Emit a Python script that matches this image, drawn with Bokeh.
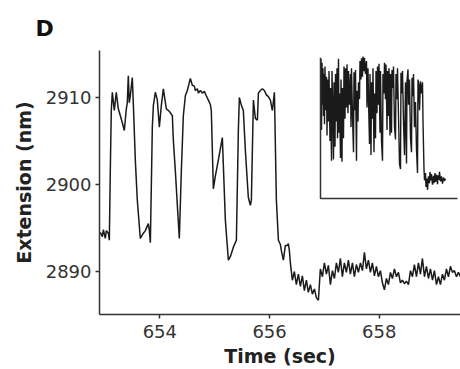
from bokeh.plotting import figure
from bokeh.models import Range1d, FixedTicker, Title
from bokeh.embed import file_html
from bokeh.resources import INLINE

# ---- main trace (time in s, extension in nm) ----
time_s = [652.915, 652.951, 652.970, 653.006, 653.024, 653.061, 653.079, 653.097, 653.115, 653.134,
          653.170, 653.206, 653.243, 653.280, 653.316, 653.352, 653.389, 653.407, 653.425, 653.443,
          653.462, 653.498, 653.516, 653.553, 653.589, 653.644, 653.699, 653.736, 653.790, 653.809,
          653.827, 653.863, 653.882, 653.918, 653.954, 653.991, 654.027, 654.064, 654.118, 654.173,
          654.228, 654.246, 654.282, 654.319, 654.355, 654.392, 654.410, 654.428, 654.465, 654.501,
          654.556, 654.592, 654.629, 654.647, 654.684, 654.702, 654.738, 654.775, 654.811, 654.847,
          654.884, 654.920, 654.938, 654.975, 655.012, 655.066, 655.139, 655.194, 655.249, 655.285,
          655.340, 655.395, 655.431, 655.449, 655.486, 655.522, 655.559, 655.613, 655.650, 655.668,
          655.705, 655.741, 655.778, 655.796, 655.832, 655.869, 655.905, 655.942, 655.978, 656.015,
          656.051, 656.088, 656.124, 656.161, 656.197, 656.215, 656.252, 656.288, 656.325, 656.343,
          656.361,
          656.379, 656.415, 656.452, 656.488, 656.525, 656.562, 656.598, 656.634, 656.671, 656.707,
          656.744, 656.780, 656.817, 656.853, 656.890, 656.926, 656.963, 656.999, 657.036, 657.072,
          657.109, 657.145, 657.182, 657.218, 657.254, 657.291, 657.327, 657.364, 657.400, 657.437,
          657.473, 657.510, 657.546, 657.583, 657.619, 657.656, 657.692, 657.729, 657.765, 657.802,
          657.838, 657.874, 657.911, 657.947, 657.984, 658.020, 658.057, 658.093, 658.130, 658.166,
          658.203, 658.239, 658.276, 658.312, 658.349, 658.385, 658.421, 658.458, 658.494, 658.531,
          658.568, 658.604, 658.640, 658.677, 658.713, 658.750, 658.786, 658.823, 658.859, 658.896,
          658.932, 658.969, 659.005, 659.042, 659.078, 659.114, 659.151, 659.187, 659.224, 659.260,
          659.297, 659.333, 659.370, 659.406, 659.443, 659.479]
extension_nm = [2894.5, 2894.0, 2894.8, 2893.8, 2894.7, 2894.4, 2893.6, 2901.6, 2908.5, 2910.6,
                2908.5, 2910.6, 2908.7, 2907.9, 2907.1, 2906.2, 2908.7, 2909.4, 2912.5, 2909.4,
                2910.2, 2912.3, 2909.4, 2902.8, 2898.2, 2893.8, 2894.4, 2894.7, 2895.5, 2894.7,
                2893.3, 2906.6, 2909.1, 2910.6, 2909.7, 2906.6, 2909.1, 2911.0, 2908.7, 2908.4,
                2907.9, 2905.1, 2901.6, 2897.6, 2893.8, 2901.6, 2904.7, 2907.9, 2910.2, 2910.8,
                2912.2, 2911.4, 2911.3, 2910.8, 2911.0, 2910.5, 2910.8, 2910.5, 2910.7, 2910.2,
                2909.7, 2909.2, 2908.5, 2899.5, 2901.0, 2902.8, 2905.4, 2895.9, 2891.3, 2891.7,
                2892.8, 2893.6, 2906.2, 2910.0, 2909.1, 2908.5, 2903.9, 2898.5, 2897.6, 2898.2,
                2909.7, 2907.6, 2907.4, 2910.5, 2910.8, 2911.0, 2910.8, 2910.3, 2910.1, 2909.7,
                2908.5, 2910.6, 2898.2, 2893.6, 2893.1, 2892.4, 2891.3, 2893.0, 2893.0, 2893.2,
                2892.4,
                2891.0, 2889.0, 2890.0, 2888.5, 2889.7, 2888.3, 2889.5, 2887.8, 2889.0, 2887.6,
                2888.5, 2887.4, 2888.0, 2887.0, 2886.7, 2890.3, 2889.4, 2891.0, 2889.7, 2890.7,
                2888.5, 2890.1, 2889.2, 2891.0, 2889.9, 2891.5, 2889.4, 2891.0, 2889.9, 2891.3,
                2889.7, 2891.0, 2889.4, 2890.8, 2889.9, 2891.0, 2890.1, 2892.2, 2890.3, 2891.3,
                2889.9, 2891.0, 2889.5, 2890.6, 2889.4, 2890.1, 2888.7, 2887.9, 2889.2, 2888.5,
                2889.9, 2889.2, 2890.3, 2889.4, 2889.9, 2888.7, 2889.0, 2888.6, 2888.9, 2888.5,
                2890.1, 2889.4, 2890.8, 2889.4, 2891.0, 2889.7, 2891.5, 2889.4, 2890.6, 2889.2,
                2890.3, 2889.0, 2890.1, 2888.5, 2889.4, 2888.5, 2889.7, 2889.0, 2890.3, 2889.4,
                2890.6, 2889.9, 2890.1, 2889.4, 2889.9, 2889.4]

# ---- inset: longer recording (arbitrary time units, extension in nm) ----
inset_time = [0.5, 1, 1.5, 2, 2.5, 3, 3.5, 4, 4.5, 5, 6, 6.5, 7, 8, 8.5, 9.5, 10, 11, 11.5, 12,
              13, 13.5, 14.5, 15, 16, 16.5, 17, 18, 18.5, 19, 20, 20.5, 21.5, 22, 23, 23.5, 24.5, 25, 26, 26.5,
              27.5, 28, 29, 30, 30.5, 31, 32, 33, 33.5, 34.5, 35, 36, 36.5, 37.5, 38, 39, 39.5, 40.5, 41, 42,
              42.5, 43.5, 44, 45, 46, 46.5, 47.5, 48, 49, 49.5, 50.5, 51, 52, 52.5, 53.5, 54, 55, 55.5, 56.5, 57,
              58, 58.5, 59.5, 60, 61, 62, 62.5, 63.5, 64, 65, 65.5, 66.5, 67, 68, 68.5, 69.5, 70, 71, 71.5, 72.5,
              73, 74, 75, 75.5, 76.5, 77, 78, 79, 80, 80.5, 81.5, 82, 83, 84, 85, 86, 86.5, 87.5, 88, 89,
              90, 91, 91.5, 92.5, 93, 94, 95, 96, 97, 97.5, 98.5, 99, 100, 101, 102, 102.5, 103.5, 104, 105, 105.5,
              106.5, 107, 108, 109, 109.5, 110.5, 111, 112, 113, 113.5, 114.5, 115, 116, 117, 117.5, 118.5, 119, 120, 121, 122,
              123, 124, 125]
inset_ext = [2911.2, 2898.5, 2910.5, 2903.0, 2909.5, 2901.0, 2908.5, 2899.5, 2909.8, 2902.0, 2908.0, 2897.5, 2907.5, 2900.0, 2909.0, 2896.5, 2906.0, 2893.0, 2909.0, 2904.0,
             2893.2, 2907.0, 2895.5, 2908.5, 2900.0, 2909.5, 2897.0, 2911.2, 2898.0, 2905.0, 2893.5, 2907.5, 2892.8, 2906.0, 2897.0, 2909.8, 2900.5, 2909.5, 2902.5, 2910.2,
             2901.5, 2909.0, 2903.0, 2908.5, 2899.0, 2909.5, 2901.0, 2894.5, 2908.8, 2902.0, 2909.2, 2893.0, 2905.5, 2900.0, 2907.0, 2904.0, 2910.8, 2907.5, 2911.3, 2908.0,
             2911.6, 2909.0, 2911.4, 2908.5, 2910.8, 2902.5, 2909.5, 2904.0, 2896.0, 2908.5, 2894.0, 2907.0, 2900.5, 2909.5, 2894.5, 2905.0, 2897.0, 2909.0, 2901.5, 2909.8,
             2903.0, 2910.3, 2898.0, 2909.0, 2896.5, 2893.0, 2908.5, 2905.0, 2910.5, 2904.0, 2910.2, 2898.5, 2909.0, 2901.0, 2909.5, 2897.5, 2908.5, 2898.0, 2909.2, 2906.0,
             2909.8, 2899.0, 2896.8, 2908.5, 2904.0, 2909.5, 2901.0, 2892.5, 2891.5, 2908.7, 2905.0, 2909.0, 2900.0, 2894.0, 2907.0, 2892.5, 2907.2, 2909.3, 2903.0, 2907.5,
             2897.0, 2894.5, 2907.8, 2904.5, 2908.5, 2899.0, 2903.5, 2895.0, 2890.8, 2907.5, 2906.5, 2902.0, 2907.2, 2905.0, 2907.0, 2900.0, 2891.5, 2889.5, 2890.8, 2888.3,
             2889.8, 2887.8, 2890.2, 2889.0, 2891.0, 2889.5, 2890.6, 2888.7, 2890.3, 2889.0, 2890.8, 2889.2, 2890.5, 2888.8, 2890.4, 2889.6, 2891.0, 2889.3, 2890.2, 2888.9,
             2890.0, 2889.4, 2889.8]

x_ticks = [654, 656, 658]
y_ticks = [2890, 2900, 2910]

INK = "#1a1a1a"
FONT = "DejaVu Sans"

p = figure(width=460, height=369,
           x_range=Range1d(652.90, 659.48), y_range=Range1d(2885.06, 2915.4),
           output_backend="svg", toolbar_location=None,
           min_border_left=99, min_border_right=0, min_border_top=50, min_border_bottom=55)
p.outline_line_color = None
p.grid.visible = False
p.background_fill_color = "white"
p.border_fill_color = "white"

p.title = Title(text="D", align="left", offset=-64, standoff=20,
                text_font=FONT, text_font_size="22px", text_font_style="bold",
                text_color="#111111")

# inset coordinate system
p.extra_x_ranges = {"inset_x": Range1d(-221, 140)}
p.extra_y_ranges = {"inset_y": Range1d(2865.54, 2912.68)}

p.line(time_s, extension_nm, line_color=INK, line_width=1.5)

p.line(inset_time, inset_ext, x_range_name="inset_x", y_range_name="inset_y",
       line_color=INK, line_width=1.4)
# inset frame (left and bottom edges)
p.line([0, 0, 137], [2911.4, 2886.25, 2886.25], x_range_name="inset_x", y_range_name="inset_y",
       line_color="#333333", line_width=1.5)

for ax in (p.xaxis[0], p.yaxis[0]):
    ax.axis_line_color = "#333333"
    ax.axis_line_width = 1.5
    ax.major_tick_line_color = "#333333"
    ax.major_tick_line_width = 1.5
    ax.major_tick_in = 0
    ax.major_tick_out = 4
    ax.minor_tick_line_color = None
    ax.major_label_text_font = FONT
    ax.major_label_text_font_size = "18px"
    ax.major_label_text_color = "#333333"
    ax.axis_label_text_font = FONT
    ax.axis_label_text_font_size = "19px"
    ax.axis_label_text_font_style = "bold"
    ax.axis_label_text_color = "#222222"

p.xaxis.ticker = FixedTicker(ticks=x_ticks)
p.yaxis.ticker = FixedTicker(ticks=y_ticks)
p.xaxis.axis_label = "Time (sec)"
p.yaxis.axis_label = "Extension (nm)"
p.xaxis.major_label_standoff = 6
p.xaxis.axis_label_standoff = 4
p.yaxis.major_label_standoff = 4
p.yaxis.axis_label_standoff = 8

open("out.html", "w").write(file_html(p, INLINE))
